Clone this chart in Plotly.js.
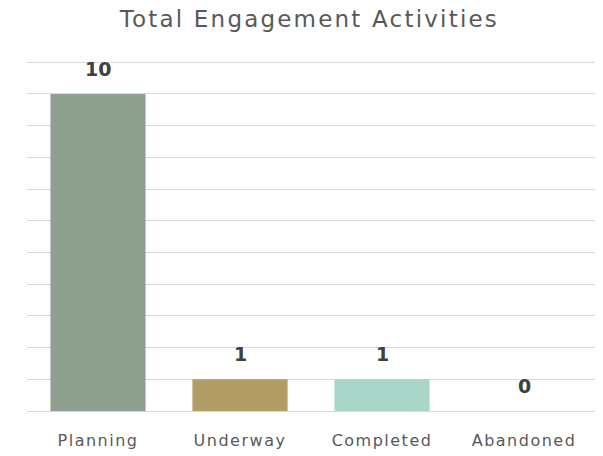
<!DOCTYPE html>
<html>
<head>
<meta charset="utf-8">
<script src="https://cdn.plot.ly/plotly-3.0.1.min.js"></script>
<style>
html,body{margin:0;padding:0;background:#fff;}
#chart{width:603px;height:456px;}
#chart .gtitle{letter-spacing:2.2px;}
#chart .xtick text{letter-spacing:1.5px;}
</style>
</head>
<body>
<div id="chart"></div>
<script>
var categories = ["Planning", "Underway", "Completed", "Abandoned"];
var values = [10, 1, 1, 0];
var barColors = ["#8FA091", "#B39D66", "#AAD5C9", "#CCCCCC"];
var titleText = "Total Engagement Activities";

var fontFam = "DejaVu Sans, Verdana, sans-serif";

var trace = {
  type: "bar",
  x: categories,
  y: values,
  marker: {color: barColors},
  hoverinfo: "none"
};

var annotations = categories.map(function (c, i) {
  return {
    x: c, y: values[i], xref: "x", yref: "y",
    text: "<b>" + values[i] + "</b>",
    showarrow: false, yanchor: "bottom", yshift: 12,
    font: {family: fontFam, size: 19, color: "#404040"}
  };
});

var layout = {
  width: 603, height: 456,
  margin: {l: 27, r: 8, t: 59, b: 45},
  paper_bgcolor: "#ffffff", plot_bgcolor: "#ffffff",
  title: {text: titleText, x: 0.513, xanchor: "center", y: 0.976, yanchor: "top",
          font: {family: fontFam, size: 23, color: "#595959"}},
  bargap: 0.33,
  showlegend: false,
  xaxis: {
    showgrid: false, zeroline: false, showline: false, ticks: "",
    tickfont: {family: fontFam, size: 16, color: "#595959"},
    ticklabelstandoff: 18,
    fixedrange: true
  },
  yaxis: {
    range: [0, 11.1], dtick: 1, showticklabels: false,
    showgrid: true, gridcolor: "#D9D9D9", gridwidth: 1,
    zeroline: true, zerolinecolor: "#D9D9D9", zerolinewidth: 1,
    showline: false, ticks: "", fixedrange: true
  },
  annotations: annotations
};

Plotly.newPlot("chart", [trace], layout, {displayModeBar: false, staticPlot: true});
</script>
</body>
</html>
